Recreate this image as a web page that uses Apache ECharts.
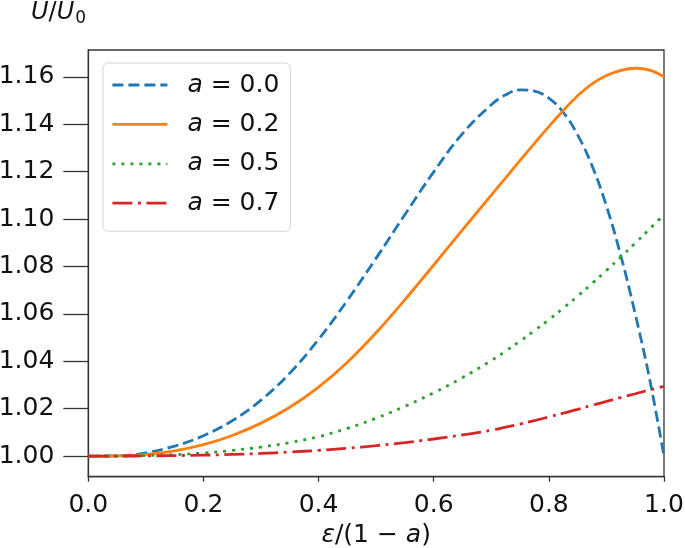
<!DOCTYPE html>
<html>
<head>
<meta charset="utf-8">
<script src="https://cdn.jsdelivr.net/npm/echarts@6/dist/echarts.min.js"></script>
<style>
html,body{margin:0;padding:0;background:#fff;}
#chart{width:685px;height:548px;}
</style>
</head>
<body>
<div id="chart"></div>
<script>
// ---- data ----
const xs  = [0, 0.05, 0.1, 0.15, 0.2, 0.25, 0.3, 0.35, 0.4, 0.45, 0.5, 0.55, 0.6, 0.65, 0.7, 0.725, 0.75, 0.775, 0.8, 0.825, 0.85, 0.875, 0.9, 0.925, 0.95, 0.975, 1.0];
const a00 = [1.0000, 1.0001, 1.0014, 1.0042, 1.0086, 1.0149, 1.0236, 1.0350, 1.0492, 1.0657, 1.0835, 1.1019, 1.1199, 1.1360, 1.1482, 1.1524, 1.1545, 1.1540, 1.1510, 1.1450, 1.1355, 1.1225, 1.1055, 1.0845, 1.0600, 1.0325, 1.0000];
const a02 = [1.0000, 1.0001, 1.0007, 1.0022, 1.0048, 1.0087, 1.0139, 1.0206, 1.0291, 1.0396, 1.0521, 1.0660, 1.0806, 1.0954, 1.1101, 1.1174, 1.1247, 1.1319, 1.1390, 1.1458, 1.1520, 1.1570, 1.1605, 1.1627, 1.1636, 1.1628, 1.1600];
const a05 = [1.0000, 1.0000, 1.0002, 1.0006, 1.0013, 1.0024, 1.0038, 1.0057, 1.0082, 1.0117, 1.0160, 1.0210, 1.0267, 1.0331, 1.0403, 1.0443, 1.0485, 1.0529, 1.0575, 1.0624, 1.0675, 1.0728, 1.0783, 1.0840, 1.0898, 1.0958, 1.1018];
const a07 = [1.0000, 1.0000, 1.0001, 1.0002, 1.0004, 1.0007, 1.0011, 1.0017, 1.0024, 1.0033, 1.0044, 1.0057, 1.0072, 1.0089, 1.0109, 1.0122, 1.0135, 1.0150, 1.0165, 1.0181, 1.0197, 1.0214, 1.0231, 1.0247, 1.0263, 1.0279, 1.0294];
const seriesNames = ['a = 0.0', 'a = 0.2', 'a = 0.5', 'a = 0.7'];
const seriesValues = [a00, a02, a05, a07];
const xTicks = [0, 0.2, 0.4, 0.6, 0.8, 1.0];
const yTicks = [1.00, 1.02, 1.04, 1.06, 1.08, 1.10, 1.12, 1.14, 1.16];

// ---- styles ----
const FONT = 'DejaVu Sans';
const colors = ['#1f77b4', '#ff7f0e', '#2ca02c', '#d62728'];
const dashes = [[11, 5], 'solid', [3, 6], [20, 5.5, 3, 5.5]];
const AX = '#333333';

const chart = echarts.init(document.getElementById('chart'));
const series = seriesNames.map((name, i) => ({
  name: name,
  type: 'line',
  data: xs.map((x, j) => [x, seriesValues[i][j]]),
  showSymbol: false,
  symbol: 'none',
  smooth: 0.4,
  lineStyle: { color: colors[i], width: 2.8, type: dashes[i], cap: 'butt' },
  itemStyle: { color: colors[i] },
  z: 3
}));

chart.setOption({
  animation: false,
  backgroundColor: '#ffffff',
  textStyle: { fontFamily: FONT },
  grid: {
    left: 88.3, right: 21, top: 50, bottom: 71.3,
    containLabel: false, outerBoundsMode: 'none',
    show: true, borderColor: AX, borderWidth: 1.3, backgroundColor: 'transparent'
  },
  xAxis: {
    type: 'value', min: 0, max: 1, interval: 0.2,
    axisLine: { show: true, lineStyle: { color: AX, width: 1.3 } },
    axisTick: { show: true, inside: false, length: 5, lineStyle: { color: AX, width: 1.3 }, customValues: xTicks },
    axisLabel: { color: '#111', fontSize: 25, fontFamily: FONT, margin: 16, customValues: xTicks, formatter: v => v.toFixed(1) },
    splitLine: { show: false },
    name: '{i|ε}/(1 − {i|a})',
    nameLocation: 'middle',
    nameGap: 43,
    nameTextStyle: {
      color: '#111', fontSize: 25, fontFamily: FONT,
      rich: { i: { fontStyle: 'italic', fontSize: 25, fontFamily: FONT, color: '#111' } }
    }
  },
  yAxis: {
    type: 'value', min: 0.9913, max: 1.1713,
    axisLine: { show: true, lineStyle: { color: AX, width: 1.3 } },
    axisTick: { show: true, inside: false, length: 25, lineStyle: { color: AX, width: 1.3 }, customValues: yTicks },
    axisLabel: { color: '#111', fontSize: 25, fontFamily: FONT, margin: 34, customValues: yTicks, formatter: v => v.toFixed(2) },
    splitLine: { show: false }
  },
  legend: {
    orient: 'vertical',
    left: 103, top: 63,
    padding: [8, 11, 14, 8],
    itemWidth: 55, itemHeight: 14, itemGap: 11.4,
    itemStyle: { opacity: 0 },
    lineStyle: { width: 2.8 },
    backgroundColor: 'rgba(255,255,255,0.8)',
    borderColor: '#d4d4d4', borderWidth: 1, borderRadius: 5,
    data: seriesNames,
    formatter: name => '{i|a}' + name.slice(1),
    textStyle: {
      color: '#111', fontSize: 25, fontFamily: FONT, lineHeight: 28, padding: [0, 0, 0, 15],
      rich: { i: { fontStyle: 'italic', fontSize: 25, fontFamily: FONT, lineHeight: 28, color: '#111' } }
    }
  },
  graphic: [{
    type: 'text', left: 31, top: -1,
    style: {
      text: '{i|U}/{i|U}{s|0}',
      rich: {
        i: { fontStyle: 'italic', fontSize: 24, fontFamily: FONT, fill: '#111', lineHeight: 30 },
        s: { fontSize: 17, fontFamily: FONT, fill: '#111', padding: [11, 0, 0, 1], lineHeight: 30 }
      },
      fontSize: 24, fontFamily: FONT, fill: '#111'
    }
  }],
  series: series
});
</script>
</body>
</html>
